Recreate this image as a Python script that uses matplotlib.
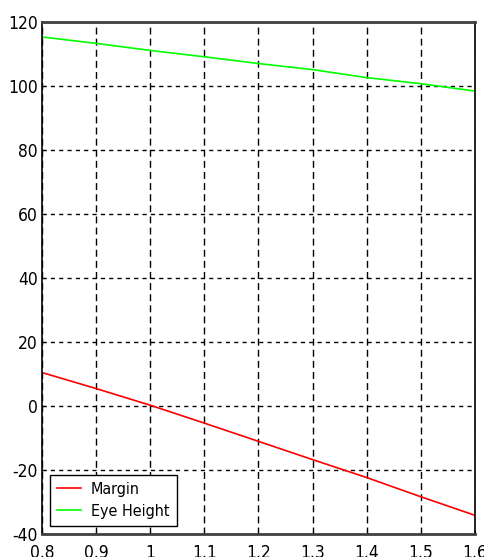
import matplotlib.pyplot as plt

x = [0.8, 0.9, 1.0, 1.1, 1.2, 1.3, 1.4, 1.5, 1.6]
margin = [10.5, 5.5, 0.3, -5.3, -11.0, -16.7, -22.3, -28.3, -34.1]
eye_height = [115.4, 113.4, 111.2, 109.2, 107.1, 105.2, 102.7, 100.8, 98.5]
xticks = [0.8, 0.9, 1.0, 1.1, 1.2, 1.3, 1.4, 1.5, 1.6]
xticklabels = ['0.8', '0.9', '1', '1.1', '1.2', '1.3', '1.4', '1.5', '1.6']
yticks = [-40, -20, 0, 20, 40, 60, 80, 100, 120]

plt.rcParams['font.family'] = ['DejaVu Sans']
plt.rcParams['font.stretch'] = 'condensed'
plt.rcParams['axes.unicode_minus'] = False

fig = plt.figure(figsize=(4.84, 5.57), dpi=100)
ax = fig.add_axes([0.087, 0.041, 0.894, 0.919])

ax.plot(x, margin, color='#ff0000', lw=1.2, label='Margin')
ax.plot(x, eye_height, color='#00ff00', lw=1.2, label='Eye Height')

ax.set_xlim(0.8, 1.6)
ax.set_ylim(-40, 120)
ax.set_xticks(xticks)
ax.set_xticklabels(xticklabels)
ax.set_yticks(yticks)
ax.tick_params(direction='in', length=3, labelsize=12.5)
ax.tick_params(axis='y', pad=3)
ax.tick_params(axis='x', pad=7)

ax.xaxis.grid(True, color='black', linestyle=(0, (5, 3)), lw=1)
ax.yaxis.grid(True, color='black', linestyle=(0, (3, 3)), lw=1)

for s in ax.spines.values():
    s.set_linewidth(1.2)
ax.spines['top'].set_color('#404040')
ax.spines['top'].set_linewidth(2)
ax.spines['bottom'].set_color('#404040')
ax.spines['bottom'].set_linewidth(2)

leg = ax.legend(loc='lower left', fontsize=11.5, fancybox=False, framealpha=1,
                edgecolor='black', borderaxespad=0.5, handlelength=1.5,
                labelspacing=0.45, borderpad=0.45, handletextpad=0.6)
leg.get_frame().set_linewidth(1)

fig.savefig('out.png', dpi=100)
